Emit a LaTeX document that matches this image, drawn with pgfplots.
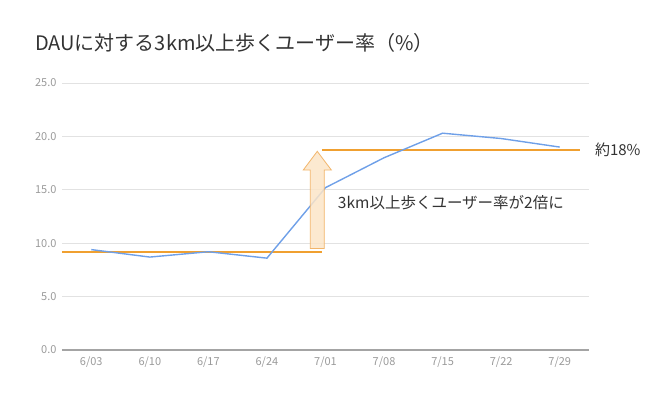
\documentclass[border=0pt]{standalone}
\usepackage{fontspec}
\setmainfont{Noto Sans CJK JP}
\usepackage{pgfplots}
\pgfplotsset{compat=1.18}
\definecolor{lineblue}{HTML}{6FA0E8}
\definecolor{lineorange}{HTML}{F0A030}
\definecolor{arrowfill}{HTML}{FBE5C8}
\definecolor{arrowdraw}{HTML}{F2B56A}
\definecolor{gridgray}{HTML}{E2E2E2}
\definecolor{tickgray}{HTML}{9A9A9A}
\definecolor{txtgray}{HTML}{333333}
\begin{document}
\begin{tikzpicture}
\useasboundingbox (-62pt,-64pt) rectangle (603pt,350pt);
\begin{axis}[
  at={(0,0)}, anchor=south west,
  scale only axis, width=527pt, height=267pt,
  xmin=-0.5, xmax=8.5, ymin=0, ymax=25,
  xtick={0,...,8},
  xticklabels={6/03,6/10,6/17,6/24,7/01,7/08,7/15,7/22,7/29},
  ytick={0,5,10,15,20,25},
  yticklabel={\pgfmathprintnumber[fixed,fixed zerofill,precision=1]{\tick}},
  /pgf/number format/assume math mode=true,
  ticklabel style={font=\fontsize{11}{12}\selectfont, text=tickgray},
  xticklabel style={yshift=-3pt},
  yticklabel style={xshift=-2pt},
  major tick length=0pt,
  axis line style={draw=none},
  ymajorgrids, grid style={gridgray, line width=0.9pt},
  clip=false,
]
\draw[tickgray!90, line width=1.6pt] (axis cs:-0.5,0) -- (axis cs:8.5,0);
\addplot[lineorange, line width=1.8pt] coordinates {(-0.5,9.2) (3.94,9.2)};
\addplot[lineorange, line width=1.8pt] coordinates {(3.94,18.7) (8.34,18.7)};
\addplot[lineblue, line width=1.4pt] coordinates {
(0,9.4) (1,8.7) (2,9.2) (3,8.6) (4,15.2) (5,18.0) (6,20.3) (7,19.8) (8,19.0)};
\draw[arrowdraw, fill=arrowfill, fill opacity=0.85, line width=0.8pt]
  (axis cs:3.74,9.5) -- (axis cs:3.74,16.85) -- (axis cs:3.62,16.85)
  -- (axis cs:3.86,18.6) -- (axis cs:4.10,16.85) -- (axis cs:3.98,16.85)
  -- (axis cs:3.98,9.5) -- cycle;
\node[anchor=west, text=txtgray, font=\fontsize{15.5}{17}\selectfont, inner sep=0pt]
  at (axis cs:4.21,13.8) {3km以上歩くユーザー率が2倍に};
\node[anchor=west, text=txtgray, font=\fontsize{15}{17}\selectfont, inner sep=0pt]
  at (axis cs:8.6,18.7) {約18\%};
\end{axis}
\node[anchor=west, text=txtgray, font=\fontsize{20}{22}\selectfont, inner sep=0pt]
  at (-27pt,307pt) {DAUに対する3km以上歩くユーザー率（\%）};
\end{tikzpicture}
\end{document}
